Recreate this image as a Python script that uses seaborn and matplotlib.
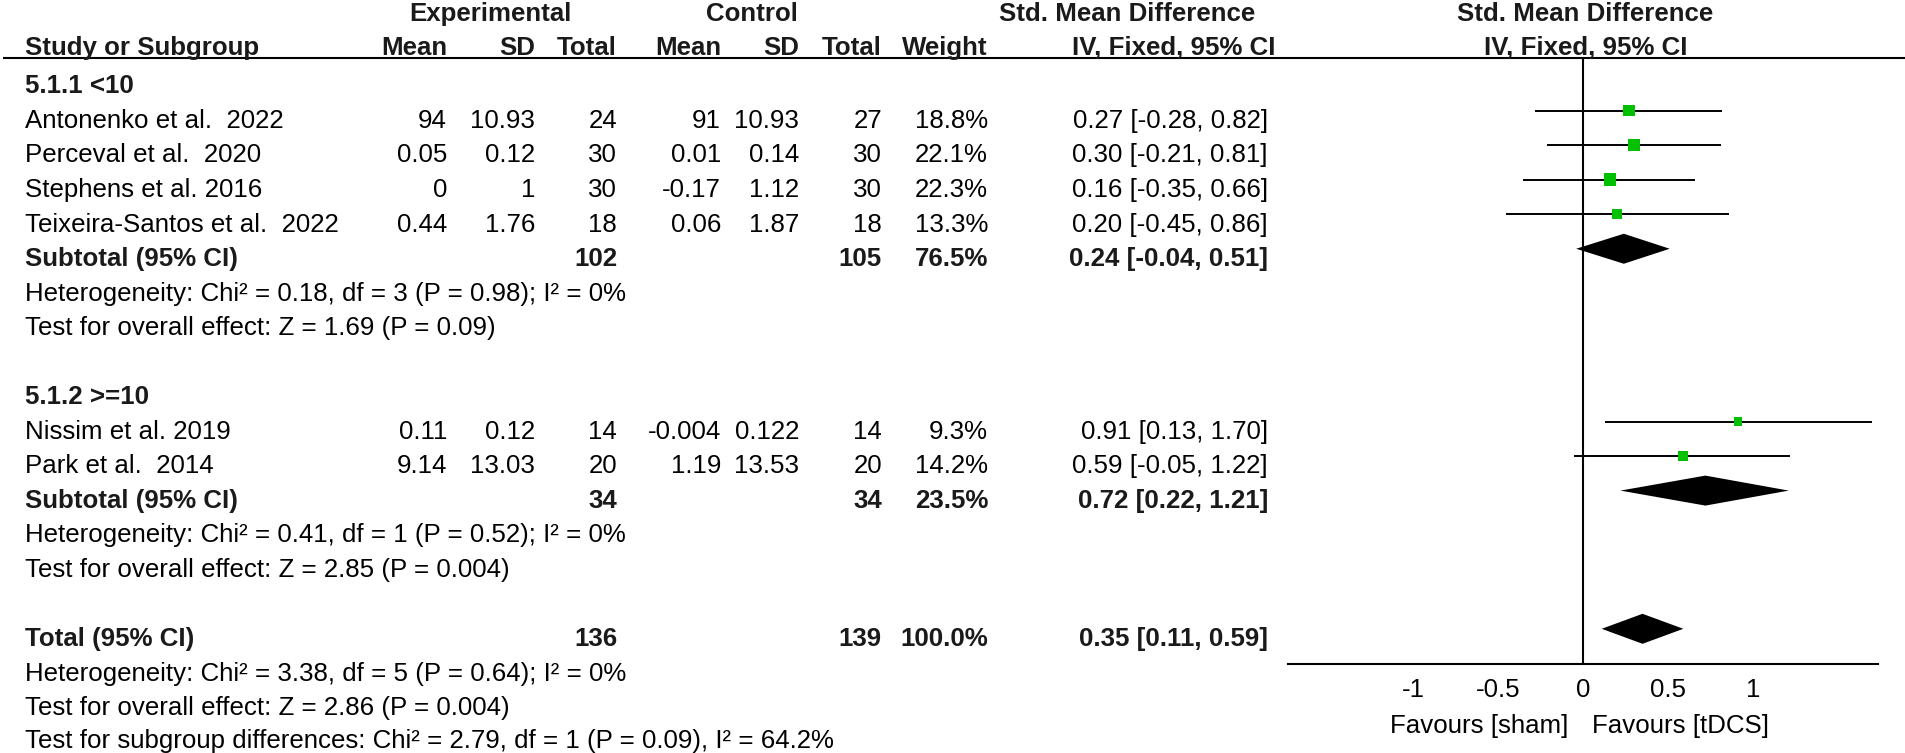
import matplotlib
matplotlib.use("Agg")
import matplotlib.pyplot as plt
import numpy as np
import pandas as pd
import seaborn as sns

sns.set_theme(style="white")
plt.rcParams["font.family"] = ["Liberation Sans", "DejaVu Sans"]
plt.rcParams["axes.unicode_minus"] = False

# ---------------- data ----------------
studies = ["Antonenko et al.  2022", "Perceval et al.  2020", "Stephens et al. 2016",
           "Teixeira-Santos et al.  2022", "Nissim et al. 2019", "Park et al.  2014"]
study_group = [0, 0, 0, 0, 1, 1]
exp_mean = ["94", "0.05", "0", "0.44", "0.11", "9.14"]
exp_sd = ["10.93", "0.12", "1", "1.76", "0.12", "13.03"]
exp_n = [24, 30, 30, 18, 14, 20]
ctl_mean = ["91", "0.01", "-0.17", "0.06", "-0.004", "1.19"]
ctl_sd = ["10.93", "0.14", "1.12", "1.87", "0.122", "13.53"]
ctl_n = [27, 30, 30, 18, 14, 20]
weight = [18.8, 22.1, 22.3, 13.3, 9.3, 14.2]
smd = [0.27, 0.30, 0.16, 0.20, 0.91, 0.59]
ci_lo = [-0.28, -0.21, -0.35, -0.45, 0.13, -0.05]
ci_hi = [0.82, 0.81, 0.66, 0.86, 1.70, 1.22]

sub_labels = ["5.1.1 <10", "5.1.2 >=10"]
sub_exp_n = [102, 34]
sub_ctl_n = [105, 34]
sub_weight = [76.5, 23.5]
sub_smd = [0.24, 0.72]
sub_lo = [-0.04, 0.22]
sub_hi = [0.51, 1.21]
sub_het = ["Heterogeneity: Chi² = 0.18, df = 3 (P = 0.98); I² = 0%",
           "Heterogeneity: Chi² = 0.41, df = 1 (P = 0.52); I² = 0%"]
sub_test = ["Test for overall effect: Z = 1.69 (P = 0.09)",
            "Test for overall effect: Z = 2.85 (P = 0.004)"]

total_exp_n = 136
total_ctl_n = 139
total_weight = 100.0
total_smd = 0.35
total_lo = 0.11
total_hi = 0.59
total_het = "Heterogeneity: Chi² = 3.38, df = 5 (P = 0.64); I² = 0%"
total_test = "Test for overall effect: Z = 2.86 (P = 0.004)"
subgroup_test = "Test for subgroup differences: Chi² = 2.79, df = 1 (P = 0.09), I² = 64.2%"

x_ticks = [-1, -0.5, 0, 0.5, 1]
x_tick_labels = ["-1", "-0.5", "0", "0.5", "1"]
favours = ["Favours [sham]", "Favours [tDCS]"]

# ---------------- layout (pixels) ----------------
W, H = 1905, 753
FS = 18.6
TXT = "#000000"
BTXT = "#1a1a1a"
GREEN = "#00c000"

ROW0, ROWH, BASE_OFF = 76.0, 34.55, 17.3
def line_y(r):
    return ROW0 + ROWH * r
def base_y(r):
    return line_y(r) + BASE_OFF

sub_header_row = [0, 9]
study_rows = [1, 2, 3, 4, 10, 11]
sub_total_row = [5, 12]
total_row = 16

X_LEFT = 25
COLS = {"em": 447, "esd": 535, "en": 617, "cm": 721, "csd": 799, "cn": 882, "w": 988, "ci": 1268}

fig = plt.figure(figsize=(W / 100, H / 100), dpi=100)
ax = fig.add_axes([0, 0, 1, 1])
ax.set_xlim(0, W)
ax.set_ylim(H, 0)
ax.axis("off")

def t(x, y, s, ha="left", bold=False):
    ax.text(x, y, s, ha=ha, va="baseline", fontsize=FS,
            fontweight="bold" if bold else "normal", color=BTXT if bold else TXT)

# headers
t(490, 21, "Experimental", "center", True)
t(752, 21, "Control", "center", True)
t(1127, 21, "Std. Mean Difference", "center", True)
t(1585, 21, "Std. Mean Difference", "center", True)
t(X_LEFT, 55, "Study or Subgroup", bold=True)
for key, lab in [("em", "Mean"), ("esd", "SD"), ("en", "Total"), ("cm", "Mean"),
                 ("csd", "SD"), ("cn", "Total"), ("w", "Weight")]:
    t(COLS[key], 55, lab, "right", True)
t(1174, 55, "IV, Fixed, 95% CI", "center", True)
t(1586, 55, "IV, Fixed, 95% CI", "center", True)
ax.plot([3, W], [58, 58], color="black", lw=1.5, solid_capstyle="butt")

def ci_text(e, lo, hi):
    return f"{e:.2f} [{lo:.2f}, {hi:.2f}]"

# study rows
for i, name in enumerate(studies):
    y = base_y(study_rows[i])
    t(X_LEFT, y, name)
    t(COLS["em"], y, exp_mean[i], "right")
    t(COLS["esd"], y, exp_sd[i], "right")
    t(COLS["en"], y, str(exp_n[i]), "right")
    t(COLS["cm"], y, ctl_mean[i], "right")
    t(COLS["csd"], y, ctl_sd[i], "right")
    t(COLS["cn"], y, str(ctl_n[i]), "right")
    t(COLS["w"], y, f"{weight[i]:.1f}%", "right")
    t(COLS["ci"], y, ci_text(smd[i], ci_lo[i], ci_hi[i]), "right")

# subgroups
for g in range(2):
    t(X_LEFT, base_y(sub_header_row[g]), sub_labels[g], bold=True)
    r = sub_total_row[g]
    y = base_y(r)
    t(X_LEFT, y, "Subtotal (95% CI)", bold=True)
    t(COLS["en"], y, str(sub_exp_n[g]), "right", True)
    t(COLS["cn"], y, str(sub_ctl_n[g]), "right", True)
    t(COLS["w"], y, f"{sub_weight[g]:.1f}%", "right", True)
    t(COLS["ci"], y, ci_text(sub_smd[g], sub_lo[g], sub_hi[g]), "right", True)
    t(X_LEFT, base_y(r + 1), sub_het[g])
    t(X_LEFT, base_y(r + 2), sub_test[g])

# total
y = base_y(total_row)
t(X_LEFT, y, "Total (95% CI)", bold=True)
t(COLS["en"], y, str(total_exp_n), "right", True)
t(COLS["cn"], y, str(total_ctl_n), "right", True)
t(COLS["w"], y, f"{total_weight:.1f}%", "right", True)
t(COLS["ci"], y, ci_text(total_smd, total_lo, total_hi), "right", True)
t(X_LEFT, base_y(total_row + 1), total_het)
t(X_LEFT, base_y(total_row + 2), total_test)
t(X_LEFT, min(base_y(total_row + 3), 748.0), subgroup_test)

# ---------------- forest panel ----------------
AX_L, AX_R, AX_TOP, AX_BOT = 1288, 1878, 58, 664
XMIN, XMAX = -1.735, 1.735
axf = fig.add_axes([AX_L / W, (H - AX_BOT) / H, (AX_R - AX_L) / W, (AX_BOT - AX_TOP) / H])
axf.set_facecolor("none")
axf.set_xlim(XMIN, XMAX)
axf.set_ylim(AX_BOT, AX_TOP)
for s in ["left", "right", "top"]:
    axf.spines[s].set_visible(False)
axf.spines["bottom"].set_color("black")
axf.spines["bottom"].set_linewidth(1.5)
axf.set_yticks([])
axf.set_xticks(x_ticks)
axf.set_xticklabels(x_tick_labels)
axf.tick_params(axis="x", direction="inout", length=11.5, width=1.3, colors="black",
                labelsize=FS, pad=4)
axf.grid(False)
axf.axvline(0, color="black", lw=1.5)

ys = [line_y(r) for r in study_rows]
axf.hlines(ys, ci_lo, ci_hi, color="black", lw=1.4)
side_px = [2.65 * np.sqrt(w) for w in weight]
sizes = [(s * 72 / 100) ** 2 for s in side_px]
df = pd.DataFrame({"smd": smd, "y": ys})
sns.scatterplot(data=df, x="smd", y="y", marker="s", s=sizes, color=GREEN,
                linewidth=0, legend=False, ax=axf, zorder=5)
axf.set_xlabel("")
axf.set_ylabel("")

def diamond(est, lo, hi, yc, half=15):
    axf.fill([lo, est, hi, est], [yc, yc - half, yc, yc + half], color="black", lw=0, zorder=4)

for g in range(2):
    diamond(sub_smd[g], sub_lo[g], sub_hi[g], line_y(sub_total_row[g]))
diamond(total_smd, total_lo, total_hi, line_y(total_row))

# favours labels
ax.text(1568, 733, favours[0], ha="right", va="baseline", fontsize=FS, color=TXT)
ax.text(1592, 733, favours[1], ha="left", va="baseline", fontsize=FS, color=TXT)

fig.savefig("out.png", dpi=100, facecolor="white")
